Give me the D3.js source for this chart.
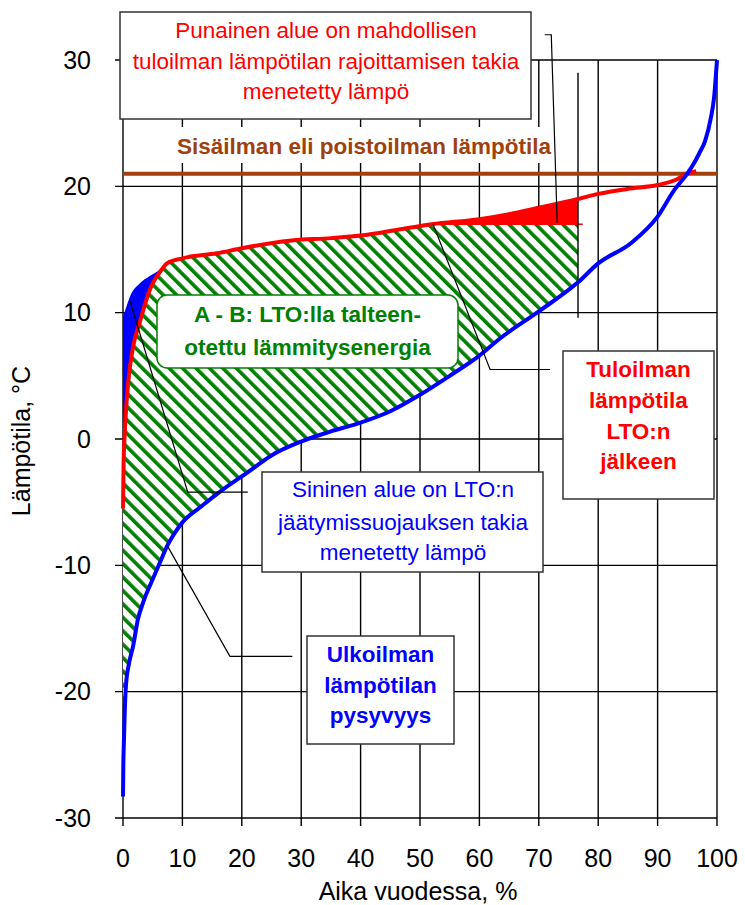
<!DOCTYPE html>
<html>
<head>
<meta charset="utf-8">
<script src="https://cdn.jsdelivr.net/npm/d3@7"></script>
<style>
  body { margin: 0; background: #fff; }
  svg { display: block; font-family: "Liberation Sans", Arial, sans-serif; }
</style>
</head>
<body>
<svg id="chart" width="745" height="905"></svg>
<script>
// Outdoor temperature duration curve (blue)
const outdoorX = [0, 0.05, 0.15, 0.3, 0.5, 1, 1.7, 2.5, 3.5, 5, 6.2, 7.4, 8.5, 10, 13, 16.8, 20.8, 25, 30, 35, 40, 45, 50, 55, 60, 63.3, 70, 76.6, 80, 85.5, 90, 92.8, 95, 96.1, 97, 98, 99, 99.5, 100];
const outdoorT = [-28.3, -26, -24, -21.5, -19.5, -17.8, -16.4, -14.3, -12.8, -11.1, -9.8, -8.5, -7.6, -6.6, -5.4, -4, -2.7, -1.3, -0.2, 0.6, 1.3, 2.2, 3.5, 5, 6.6, 7.9, 10.1, 12.4, 13.9, 15.5, 17.6, 19.7, 21, 21.8, 22.6, 23.6, 25.5, 27, 30];

// Supply air temperature after heat recovery (red)
const supplyX = [0, 0.1, 0.25, 0.5, 0.9, 1.7, 2.8, 4.5, 6.5, 7.4, 10, 15.8, 20, 28, 35, 40, 46.7, 52, 60, 65, 70, 76.6, 80, 85, 90, 93, 95, 96.5];
const supplyT = [-5.5, -2, 0, 2.2, 4.6, 7.3, 9.2, 11.8, 13.4, 13.9, 14.3, 14.7, 15.1, 15.7, 15.9, 16.1, 16.6, 17.0, 17.4, 17.8, 18.3, 19.0, 19.4, 19.8, 20.1, 20.5, 21.0, 21.2];

// Upper edge of the blue (frost protection) loss area
const frostX = [0, 0.3, 1.2, 2.8, 4.5, 6.5, 7.4];
const frostT = [9.7, 10.1, 11.3, 12.3, 12.9, 13.5, 13.9];

const indoorT = 21;      // extract air temperature
const supplyLimit = 17;  // supply air limit
const limitStart = 52;   // supply curve reaches the limit
const seasonEnd = 76.6;  // end of recovered heat area

const xTicks = d3.range(0, 101, 10);
const yTicks = d3.range(-30, 31, 10);

const svg = d3.select("#chart");
const x = d3.scaleLinear().domain([0, 100]).range([123, 717]);
const y = d3.scaleLinear().domain([-30, 30]).range([818, 60]);

const pts = (xs, ys) => xs.map((v, i) => [v, ys[i]]);
const outdoor = pts(outdoorX, outdoorT);
const supply = pts(supplyX, supplyT);
const frost = pts(frostX, frostT);

const line = d3.line().x(d => x(d[0])).y(d => y(d[1]));
const smooth = d3.line().x(d => x(d[0])).y(d => y(d[1])).curve(d3.curveMonotoneX);
// closed shape from two smooth edges
const shape = (a, b) => smooth(a) + "L" + smooth(b).slice(1) + "Z";

// hatch pattern
const defs = svg.append("defs");
const pat = defs.append("pattern")
  .attr("id", "hatch")
  .attr("patternUnits", "userSpaceOnUse")
  .attr("width", 9.5).attr("height", 9.5)
  .attr("patternTransform", "rotate(-45)");
pat.append("rect").attr("width", 9.5).attr("height", 9.5).attr("fill", "#fff");
pat.append("rect").attr("width", 3.6).attr("height", 9.5).attr("fill", "#008000");

// gridlines
svg.append("g").selectAll("line").data(xTicks).join("line")
  .attr("x1", d => x(d)).attr("x2", d => x(d))
  .attr("y1", y(30)).attr("y2", y(-30) + 8)
  .attr("stroke", "#000").attr("stroke-width", 1.4);
svg.append("g").selectAll("line").data(yTicks).join("line")
  .attr("x1", x(0) - 8).attr("x2", x(100))
  .attr("y1", d => y(d)).attr("y2", d => y(d))
  .attr("stroke", "#000").attr("stroke-width", 1.4);

// recovered energy (hatched)
const hatchTop = supply.filter(d => d[0] <= limitStart);
const hatchBottom = [[seasonEnd, supplyLimit]].concat(outdoor.filter(d => d[0] <= seasonEnd).reverse());
svg.append("path")
  .attr("d", smooth(hatchTop) + "L" + line(hatchBottom).slice(1).split("L")[0] + "L" + smooth(hatchBottom.slice(1)).slice(1) + "Z")
  .attr("fill", "url(#hatch)");

// red loss area
const redTop = supply.filter(d => d[0] >= limitStart && d[0] <= seasonEnd);
svg.append("path")
  .attr("d", smooth(redTop) + "L" + line([[seasonEnd, supplyLimit], [limitStart, supplyLimit]]).slice(1) + "Z")
  .attr("fill", "#ff0000");
svg.append("line")
  .attr("x1", x(limitStart)).attr("x2", x(77.4))
  .attr("y1", y(supplyLimit)).attr("y2", y(supplyLimit))
  .attr("stroke", "#ff0000").attr("stroke-width", 1.5);

// blue loss area
const blueLow = supply.filter(d => d[0] <= 7.4).reverse();
svg.append("path")
  .attr("d", shape(frost, blueLow))
  .attr("fill", "#0000ff");

// vertical marker at end of area
svg.append("line")
  .attr("x1", x(seasonEnd)).attr("x2", x(seasonEnd))
  .attr("y1", y(29)).attr("y2", y(9.6))
  .attr("stroke", "#000").attr("stroke-width", 1.4);

// indoor line
svg.append("line")
  .attr("x1", x(0)).attr("x2", x(100))
  .attr("y1", y(indoorT)).attr("y2", y(indoorT))
  .attr("stroke", "#a0400c").attr("stroke-width", 4);

// curves
svg.append("path").attr("d", smooth(supply))
  .attr("fill", "none").attr("stroke", "#ff0000").attr("stroke-width", 4)
  .attr("stroke-linejoin", "round");
svg.append("path").attr("d", smooth(outdoor))
  .attr("fill", "none").attr("stroke", "#0000ff").attr("stroke-width", 4)
  .attr("stroke-linejoin", "round");

// axes labels
svg.append("g").selectAll("text").data(yTicks).join("text")
  .attr("x", x(0) - 32).attr("y", d => y(d)).attr("dy", "0.35em")
  .attr("text-anchor", "end").attr("font-size", 25).text(d => d);
svg.append("g").selectAll("text").data(xTicks).join("text")
  .attr("x", d => x(d)).attr("y", y(-30) + 31).attr("dy", "0.71em")
  .attr("text-anchor", "middle").attr("font-size", 25).text(d => d);
svg.append("text")
  .attr("x", 418).attr("y", 900).attr("text-anchor", "middle")
  .attr("font-size", 25).text("Aika vuodessa, %");
svg.append("text")
  .attr("transform", "translate(29.6,441) rotate(-90)")
  .attr("text-anchor", "middle").attr("font-size", 25).text("Lämpötila, °C");

// leader lines (data coords)
const leaders = [
  [[71.0, 32.0], [72.1, 32.0], [73.1, 17.1]],
  [[1.2, 10.9], [10.9, -4.2], [21.0, -4.2]],
  [[7.4, -8.4], [18.0, -17.2], [28.5, -17.2]],
  [[52.2, 17.0], [61.8, 5.5], [71.9, 5.5]]
];
svg.append("g").selectAll("path").data(leaders).join("path")
  .attr("d", d => line(d)).attr("fill", "none")
  .attr("stroke", "#000").attr("stroke-width", 1.2);

// boxes
function box(x0, y0, x1, y1, lines, color, weight, baselines, cx, opts = {}) {
  svg.append("rect")
    .attr("x", x0).attr("y", y0).attr("width", x1 - x0).attr("height", y1 - y0)
    .attr("rx", opts.rx || 0)
    .attr("fill", "#fff")
    .attr("stroke", opts.stroke === undefined ? "#333" : opts.stroke)
    .attr("stroke-width", 1.5);
  const t = svg.append("g").attr("fill", color).attr("font-weight", weight)
    .attr("font-size", opts.size || 22.5).attr("text-anchor", "middle");
  lines.forEach((s, i) => t.append("text").attr("x", cx).attr("y", baselines[i]).text(s));
}

box(120, 12, 531, 119,
  ["Punainen alue on mahdollisen", "tuloilman lämpötilan rajoittamisen takia", "menetetty lämpö"],
  "#ff0000", "normal", [38, 68.5, 99], 326);

box(170, 127, 548, 163, ["Sisäilman eli poistoilman lämpötila"],
  "#a0400c", "bold", [153.5], 364, { stroke: "none" });

box(157, 295, 458, 368, ["A - B: LTO:lla talteen-", "otettu lämmitysenergia"],
  "#008000", "bold", [322, 355], 307.5, { stroke: "#008000", rx: 10 });

box(563, 351, 714, 499, ["Tuloilman", "lämpötila", "LTO:n", "jälkeen"],
  "#ff0000", "bold", [377, 408, 439, 469], 638.5);

box(262, 472, 543, 572, ["Sininen alue on LTO:n", "jäätymissuojauksen takia", "menetetty lämpö"],
  "#0000ff", "normal", [497, 530, 560], 403);

box(307, 636, 454, 744, ["Ulkoilman", "lämpötilan", "pysyvyys"],
  "#0000ff", "bold", [662, 693, 723], 380.5);
</script>
</body>
</html>
